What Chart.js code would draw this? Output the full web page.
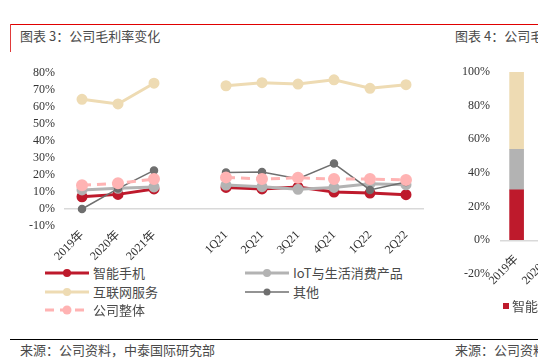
<!DOCTYPE html>
<html><head><meta charset="utf-8">
<script src="https://cdn.jsdelivr.net/npm/chart.js@4"></script>
<style>
html,body{margin:0;padding:0;width:538px;height:362px;overflow:hidden;background:#fff;font-family:'Noto Sans CJK SC',sans-serif;color:#4a4a4a;}
#wrap{position:relative;width:538px;height:362px;overflow:hidden;}
.abs{position:absolute;white-space:nowrap;}
#topline{left:10px;top:24px;width:528px;height:1px;background:#e00000;}
#vline{left:10px;top:24px;width:1px;height:28px;background:#e03a3a;}
.title{font-size:13px;line-height:18px;top:27px;}
#c1box{left:0;top:0;width:440px;height:262px;}
#c2box{left:448px;top:0;width:124px;height:304px;}
.leg{font-size:13px;line-height:16px;display:flex;align-items:center;}
.leg svg{margin-right:4px;}
#footline{left:10px;top:339px;width:528px;height:1px;background:#000;}
.src{font-size:13px;line-height:18px;top:341px;}
</style></head>
<body><div id="wrap">
<div class="abs" id="topline"></div>
<div class="abs" id="vline"></div>
<div class="abs title" style="left:20px">图表 3：公司毛利率变化</div>
<div class="abs title" style="left:455px">图表 4：公司毛利构成</div>
<div class="abs" id="c1box"><canvas id="c1"></canvas></div>
<div class="abs" id="c2box"><canvas id="c2"></canvas></div>
<div id="legend"></div>
<div class="abs leg" style="left:503px;top:298px"><span style="display:inline-block;width:6px;height:6px;background:#be1a2c;margin-right:3px"></span>智能手机</div>
<div class="abs" id="footline"></div>
<div class="abs src" style="left:20px">来源：公司资料，中泰国际研究部</div>
<div class="abs src" style="left:455px">来源：公司资料，中泰国际研究部</div>
</div>
<script>
const categories = ['2019年','2020年','2021年','','1Q21','2Q21','3Q21','4Q21','1Q22','2Q22'];
const smartphone = [7.2, 8.6, 11.8, null, 12.7, 11.8, 12.9, 10.0, 9.4, 8.4];
const iot        = [11.2, 12.2, 13.0, null, 14.1, 13.1, 11.6, 12.7, 14.9, 14.3];
const internet   = [64.5, 61.8, 74.0, null, 72.5, 74.3, 73.5, 76.0, 71.0, 73.1];
const others     = [0.0, 12.0, 22.7, null, 21.4, 21.8, 17.8, 26.7, 11.2, 15.9];
const overall    = [14.0, 15.1, 17.6, null, 18.6, 17.6, 18.4, 17.6, 17.6, 17.1];
const yTicks1 = [-10, 0, 10, 20, 30, 40, 50, 60, 70, 80];

const categories2 = ['2019年','2020年'];
const share2Smartphone = [30, null];
const share2Iot = [24, null];
const share2Internet = [46, null];
const yTicks2 = [-20, 0, 20, 40, 60, 80, 100];

const C = {red:'#be1a2c', beige:'#eedbb3', lgray:'#b3b3b3', dgray:'#6f6f6f', pink:'#ffb3b3'};
const tickFont = {family:"'Liberation Serif','Noto Sans CJK SC'", size:12};

const series = [
  {label:'智能手机', data:smartphone, color:C.red, w:3, r:4, order:3},
  {label:'IoT与生活消费产品', data:iot, color:C.lgray, w:3, r:4, order:2},
  {label:'互联网服务', data:internet, color:C.beige, w:3, r:4, order:4},
  {label:'其他', data:others, color:C.dgray, w:1.5, r:3.5, order:1},
  {label:'公司整体', data:overall, color:C.pink, w:3, r:4.5, order:0, dash:[9,6]}
];

new Chart(document.getElementById('c1'), {
  type:'line',
  data:{labels:categories, datasets:series.map(s=>({
    label:s.label, data:s.data, borderColor:s.color, backgroundColor:s.color,
    pointBackgroundColor:s.color, pointBorderColor:s.color, borderWidth:s.w,
    pointRadius:s.r, pointHoverRadius:s.r, order:s.order, borderDash:s.dash||[],
    spanGaps:false, tension:0
  }))},
  options:{
    responsive:true, maintainAspectRatio:false, animation:false,
    layout:{padding:{top:73,left:0,right:16,bottom:0}},
    plugins:{legend:{display:false}, tooltip:{enabled:false}},
    scales:{
      x:{offset:true, grid:{display:false, drawTicks:false}, border:{display:false},
         ticks:{autoSkip:false, minRotation:45, maxRotation:45, padding:2, color:'#333', font:tickFont},
         afterFit:(s)=>{s.height=36;}},
      y:{min:-10, max:80, afterBuildTicks:(s)=>{s.ticks=yTicks1.map(v=>({value:v}));},
         grid:{drawTicks:false, color:(ctx)=>ctx.tick && ctx.tick.value===0 ? '#d9d9d9':'rgba(0,0,0,0)', lineWidth:1.5},
         border:{display:false},
         ticks:{autoSkip:false, padding:9, color:'#333', font:tickFont, callback:(v)=>v+'%'},
         afterFit:(s)=>{s.width=64;}}
    }
  }
});

new Chart(document.getElementById('c2'), {
  type:'bar',
  data:{labels:categories2, datasets:[
    {label:'智能手机', data:share2Smartphone, backgroundColor:C.red, barThickness:14},
    {label:'IoT与生活消费产品', data:share2Iot, backgroundColor:C.lgray, barThickness:14},
    {label:'互联网服务', data:share2Internet, backgroundColor:C.beige, barThickness:14}
  ]},
  options:{
    responsive:true, maintainAspectRatio:false, animation:false,
    layout:{padding:{top:72,left:0,right:0,bottom:30}},
    plugins:{legend:{display:false}, tooltip:{enabled:false}},
    scales:{
      x:{stacked:true, position:{y:0}, grid:{display:false, drawTicks:false}, border:{display:false},
         ticks:{autoSkip:false, minRotation:45, maxRotation:45, padding:12, color:'#333', font:tickFont}},
      y:{stacked:true, min:-20, max:100, afterBuildTicks:(s)=>{s.ticks=yTicks2.map(v=>({value:v}));},
         grid:{drawTicks:false, color:(ctx)=>ctx.tick && ctx.tick.value===0 ? '#d9d9d9':'rgba(0,0,0,0)', lineWidth:1.5},
         border:{display:false},
         ticks:{autoSkip:false, padding:10, color:'#333', font:tickFont, callback:(v)=>v+'%'},
         afterFit:(s)=>{s.width=52;}}
    }
  }
});

// HTML legend built from series
const legPos = [[45,265],[245,265],[45,284],[245,284],[45,302]];
const legEl = document.getElementById('legend');
series.forEach((s,i)=>{
  const d = document.createElement('div');
  d.className='abs leg';
  d.style.left=legPos[i][0]+'px'; d.style.top=legPos[i][1]+'px';
  const dash = s.dash ? 'stroke-dasharray="9 6"' : '';
  d.innerHTML = `<svg width="44" height="12"><line x1="0" y1="6" x2="44" y2="6" stroke="${s.color}" stroke-width="${s.w}" ${dash}/><circle cx="22" cy="6" r="${s.r}" fill="${s.color}"/></svg><span>${s.label}</span>`;
  legEl.appendChild(d);
});
</script>
</body></html>
